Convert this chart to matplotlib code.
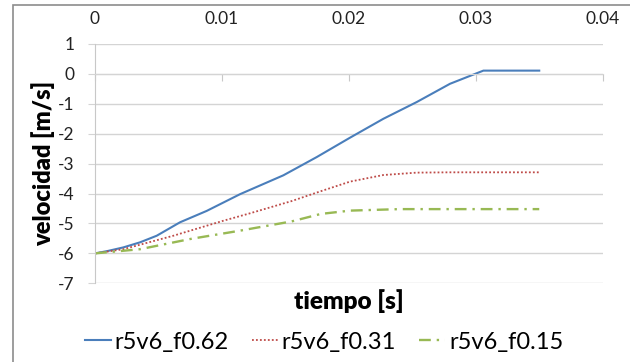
import matplotlib
matplotlib.use("Agg")
import matplotlib.pyplot as plt
from matplotlib.patches import Rectangle

plt.rcParams['font.family'] = ['Lato', 'DejaVu Sans']

# velocity history for three friction cases
t_f062 = [0, 0.001, 0.00223, 0.00355, 0.00486, 0.0067, 0.0088, 0.01143,
          0.01484, 0.01747, 0.0201, 0.02272, 0.02535, 0.02797, 0.0306, 0.035]
v_f062 = [-6.0, -5.92, -5.8, -5.63, -5.41, -4.96, -4.58, -4.02,
          -3.39, -2.78, -2.13, -1.5, -0.94, -0.33, 0.11, 0.11]

t_f031 = [0, 0.00223, 0.00617, 0.0101, 0.01221, 0.0155, 0.0178, 0.0201,
          0.02272, 0.02535, 0.028, 0.035]
v_f031 = [-6.0, -5.86, -5.41, -4.91, -4.66, -4.25, -3.92, -3.6,
          -3.38, -3.30, -3.29, -3.29]

t_f015 = [0, 0.00355, 0.00749, 0.01143, 0.0155, 0.0178, 0.0201, 0.024, 0.035]
v_f015 = [-6.0, -5.86, -5.52, -5.24, -4.93, -4.68, -4.57, -4.52, -4.52]

labels = ["r5v6_f0.62", "r5v6_f0.31", "r5v6_f0.15"]
x_ticks = [0, 0.01, 0.02, 0.03, 0.04]
x_ticklabels = ["0", "0.01", "0.02", "0.03", "0.04"]
y_ticks = [1, 0, -1, -2, -3, -4, -5, -6, -7]

W, H = 630, 362
fig = plt.figure(figsize=(W / 100, H / 100), dpi=100)
fig.patch.set_facecolor("white")

# chart frame
fig.add_artist(Rectangle((13 / W, -0.1), 1.2, 1.1 - 5 / H, transform=fig.transFigure,
                         fill=False, edgecolor="#8C8C8C", linewidth=1.2))

left, right, top, bottom = 95, 602.7, 44, 283.3
ax = fig.add_axes([left / W, 1 - bottom / H, (right - left) / W, (bottom - top) / H])

ax.plot(t_f062, v_f062, color="#4A7EBB", lw=1.5, label=labels[0])
ax.plot(t_f031, v_f031, color="#BE4B48", lw=1.3, ls=(0, (1, 1.2)), label=labels[1])
ax.plot(t_f015, v_f015, color="#98B954", lw=1.7, ls=(0, (5, 2.5, 1, 2.5)), label=labels[2])

ax.set_xlim(0, 0.04)
ax.set_ylim(-7, 1)
ax.set_xticks(x_ticks)
ax.set_xticklabels(x_ticklabels)
ax.set_yticks(y_ticks)
ax.set_yticklabels([str(v) for v in y_ticks])

ax.grid(axis="y", color="#D4D4D4", lw=1.0)
ax.set_axisbelow(True)
for side in ("top", "right"):
    ax.spines[side].set_visible(False)
ax.spines["left"].set_color("#C8C8C8")
ax.spines["bottom"].set_position(("data", 0))
ax.spines["bottom"].set_color("#D4D4D4")

ax.tick_params(axis="x", direction="out", length=5, color="#C8C8C8",
               bottom=True, top=False, labelbottom=False, labeltop=True,
               pad=7, labelsize=12.5, labelcolor="#222222")
ax.tick_params(axis="y", direction="out", length=5, color="#D4D4D4",
               pad=9.5, labelsize=12.5, labelcolor="#222222")

ax.set_ylabel("velocidad [m/s]", fontsize=17, fontweight="heavy")
ax.yaxis.set_label_coords((43 - left) / (right - left), 0.5)
ax.yaxis.label.set_va("center")
ax.set_xlabel("tiempo [s]", fontsize=17.5, fontweight="heavy")
ax.xaxis.set_label_coords(0.5, (bottom - 301) / (bottom - top))
ax.xaxis.label.set_va("center")

fig.legend(loc="center", bbox_to_anchor=(324 / W, 1 - 342 / H), ncol=3, frameon=False,
           fontsize=17, handlelength=1.1, handletextpad=0.15, columnspacing=1.0,
           borderaxespad=0)

fig.savefig("out.png", dpi=100, facecolor="white")
